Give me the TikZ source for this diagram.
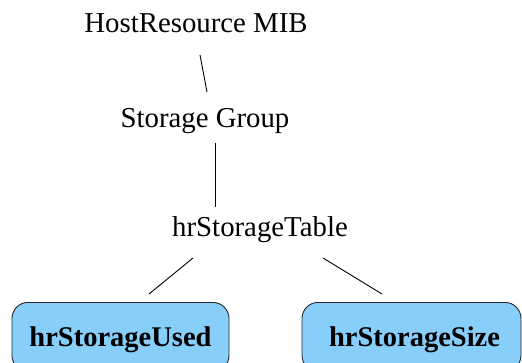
\documentclass[tikz,border=0pt]{standalone}
\usepackage{fontspec}
\setmainfont{Liberation Serif}
\definecolor{boxblue}{RGB}{135,206,250}
\tikzset{
  label/.style={inner sep=0pt, anchor=base, font=\fontsize{28.8}{34}\selectfont},
  leaf/.style={draw=black!85, line width=0.9pt, fill=boxblue, rounded corners=16pt,
    inner sep=0pt, minimum height=69pt, text height=20pt, text depth=0pt,
    anchor=north, font=\fontsize{28.5}{34}\selectfont\bfseries},
  link/.style={line width=0.9pt}
}
\begin{document}
\begin{tikzpicture}[x=1pt,y=1pt]
  \useasboundingbox (0,0) rectangle (522,362);
  \clip (0,0) rectangle (522,362);
  % tree labels
  \node[label] (host)  at (196,329) {HostResource MIB};
  \node[label] (group) at (205,234) {Storage Group};
  \node[label] (table) at (260,126) {hrStorageTable};
  % leaf objects
  \node[leaf, minimum width=217pt] (used) at (120.5,60) {hrStorageUsed};
  \node[leaf, minimum width=219pt] (size) at (411.5,60) {\hspace*{6pt}hrStorageSize};
  % connector end points
  \coordinate (h1) at (200,307);
  \coordinate (h2) at (207,270);
  \coordinate (g1) at (215,219);
  \coordinate (g2) at (215,155);
  \coordinate (t1) at (193,104);
  \coordinate (u1) at (149,68);
  \coordinate (t2) at (323,104);
  \coordinate (s1) at (382,68);
  \draw[link] (h1) -- (h2);
  \draw[link] (g1) -- (g2);
  \draw[link] (t1) -- (u1);
  \draw[link] (t2) -- (s1);
\end{tikzpicture}
\end{document}
